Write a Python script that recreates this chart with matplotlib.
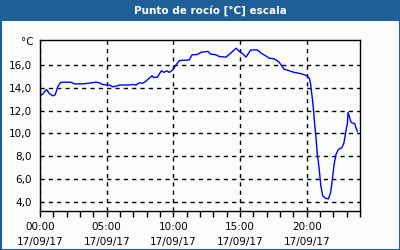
import matplotlib
matplotlib.use("Agg")
import matplotlib.pyplot as plt
from matplotlib.patches import Rectangle
from matplotlib.ticker import FixedLocator, MultipleLocator

# data: hours since 00:00 17/09/17, dew point in °C
hours = [0.0, 0.2, 0.4, 0.5, 0.7, 0.96, 1.14, 1.33, 1.54, 1.7, 2.3, 2.6, 3.2, 3.6, 4.2, 4.45,
         4.7, 5.0, 5.2, 5.45, 5.7, 5.95, 6.7, 6.95, 7.2, 7.45, 7.7, 7.95, 8.2, 8.4, 8.5, 8.8,
         9.1, 9.3, 9.5, 9.7, 9.95, 10.2, 10.45, 10.95, 11.2, 11.4, 11.8, 12.1, 12.6, 12.8,
         13.2, 13.45, 13.95, 14.3, 14.7, 14.95, 15.2, 15.45, 15.8, 16.3, 16.6, 16.8, 17.2,
         17.55, 17.9, 18.07, 18.3, 18.7, 19.06, 19.57, 19.94, 20.19, 20.3, 20.4, 20.5, 20.6,
         20.7, 20.8, 20.94, 21.06, 21.2, 21.4, 21.63, 21.8, 21.93, 22.06, 22.2, 22.38, 22.64,
         22.8, 22.94, 23.06, 23.1, 23.2, 23.3, 23.4, 23.6, 23.7, 23.8]
dewpoint = [13.3, 13.45, 13.75, 13.85, 13.5, 13.3, 13.4, 14.1, 14.46, 14.5, 14.5, 14.35, 14.35,
            14.4, 14.5, 14.45, 14.3, 14.25, 14.25, 14.1, 14.15, 14.25, 14.25, 14.3, 14.25,
            14.45, 14.4, 14.6, 14.85, 15.07, 14.93, 14.93, 15.5, 15.36, 15.5, 15.36, 15.57,
            16.0, 16.4, 16.43, 16.46, 16.9, 16.93, 17.13, 17.2, 16.96, 16.9, 16.75, 16.7,
            17.04, 17.48, 17.2, 17.0, 16.7, 17.33, 17.33, 17.04, 16.9, 16.6, 16.55, 16.3,
            16.03, 15.65, 15.5, 15.36, 15.25, 15.1, 14.87, 14.3, 13.3, 12.26, 10.8, 9.6, 8.17,
            6.87, 5.42, 4.55, 4.32, 4.26, 4.84, 6.0, 7.3, 8.17, 8.6, 8.75, 9.2, 10.2, 10.93,
            11.85, 11.5, 11.07, 10.93, 10.87, 10.5, 10.2]

title = "Punto de rocío [°C] escala"
unit = "°C"
y_ticks = [4, 6, 8, 10, 12, 14, 16]
x_ticks = [0, 5, 10, 15, 20]
x_labels = ["00:00\n17/09/17", "05:00\n17/09/17", "10:00\n17/09/17",
            "15:00\n17/09/17", "20:00\n17/09/17"]

BLUE_BAR = "#1f5f99"

fig = plt.figure(figsize=(4, 2.5), dpi=100)
fig.patch.set_facecolor("#fbfdfb")

# title bar and border
fig.patches.append(Rectangle((0, 1 - 21 / 250), 1, 21 / 250, transform=fig.transFigure,
                             facecolor=BLUE_BAR, edgecolor="none", zorder=0))
fig.patches.append(Rectangle((0.5 / 400, 0.5 / 250), 399 / 400, 249 / 250,
                             transform=fig.transFigure, facecolor="none",
                             edgecolor=BLUE_BAR, linewidth=1.5, zorder=1))
fig.text(0.525, 1 - 10.5 / 250, title, color="white", fontsize=7.5, fontweight="bold",
         ha="center", va="center", family="DejaVu Sans")

ax = fig.add_axes([40 / 400, 1 - 211 / 250, 320 / 400, 171 / 250])
ax.set_facecolor("#fbfdfb")
ax.plot(hours, dewpoint, color="#0000ff", linewidth=1.0)
ax.set_xlim(0, 24)
ax.set_ylim(3.2, 18.2)

ax.yaxis.set_major_locator(FixedLocator(y_ticks))
ax.set_yticklabels([f"{v:.1f}".replace(".", ",") for v in y_ticks])
ax.xaxis.set_major_locator(FixedLocator(x_ticks))
ax.set_xticklabels(x_labels, linespacing=1.6)
ax.xaxis.set_minor_locator(MultipleLocator(1))

ax.tick_params(axis="y", length=0, pad=6, labelsize=7.5)
ax.tick_params(axis="x", which="both", length=4, width=1, direction="out",
               labelsize=7.5, pad=4)
ax.grid(True, color="black", linestyle=(0, (3, 3)), linewidth=1)

for s in ax.spines.values():
    s.set_linewidth(1)
    s.set_color("black")

ax.text(-0.02, 18.0, unit, transform=ax.get_yaxis_transform(), ha="right", va="center",
        fontsize=7.5)

fig.savefig("out.png", dpi=100, facecolor=fig.get_facecolor())
